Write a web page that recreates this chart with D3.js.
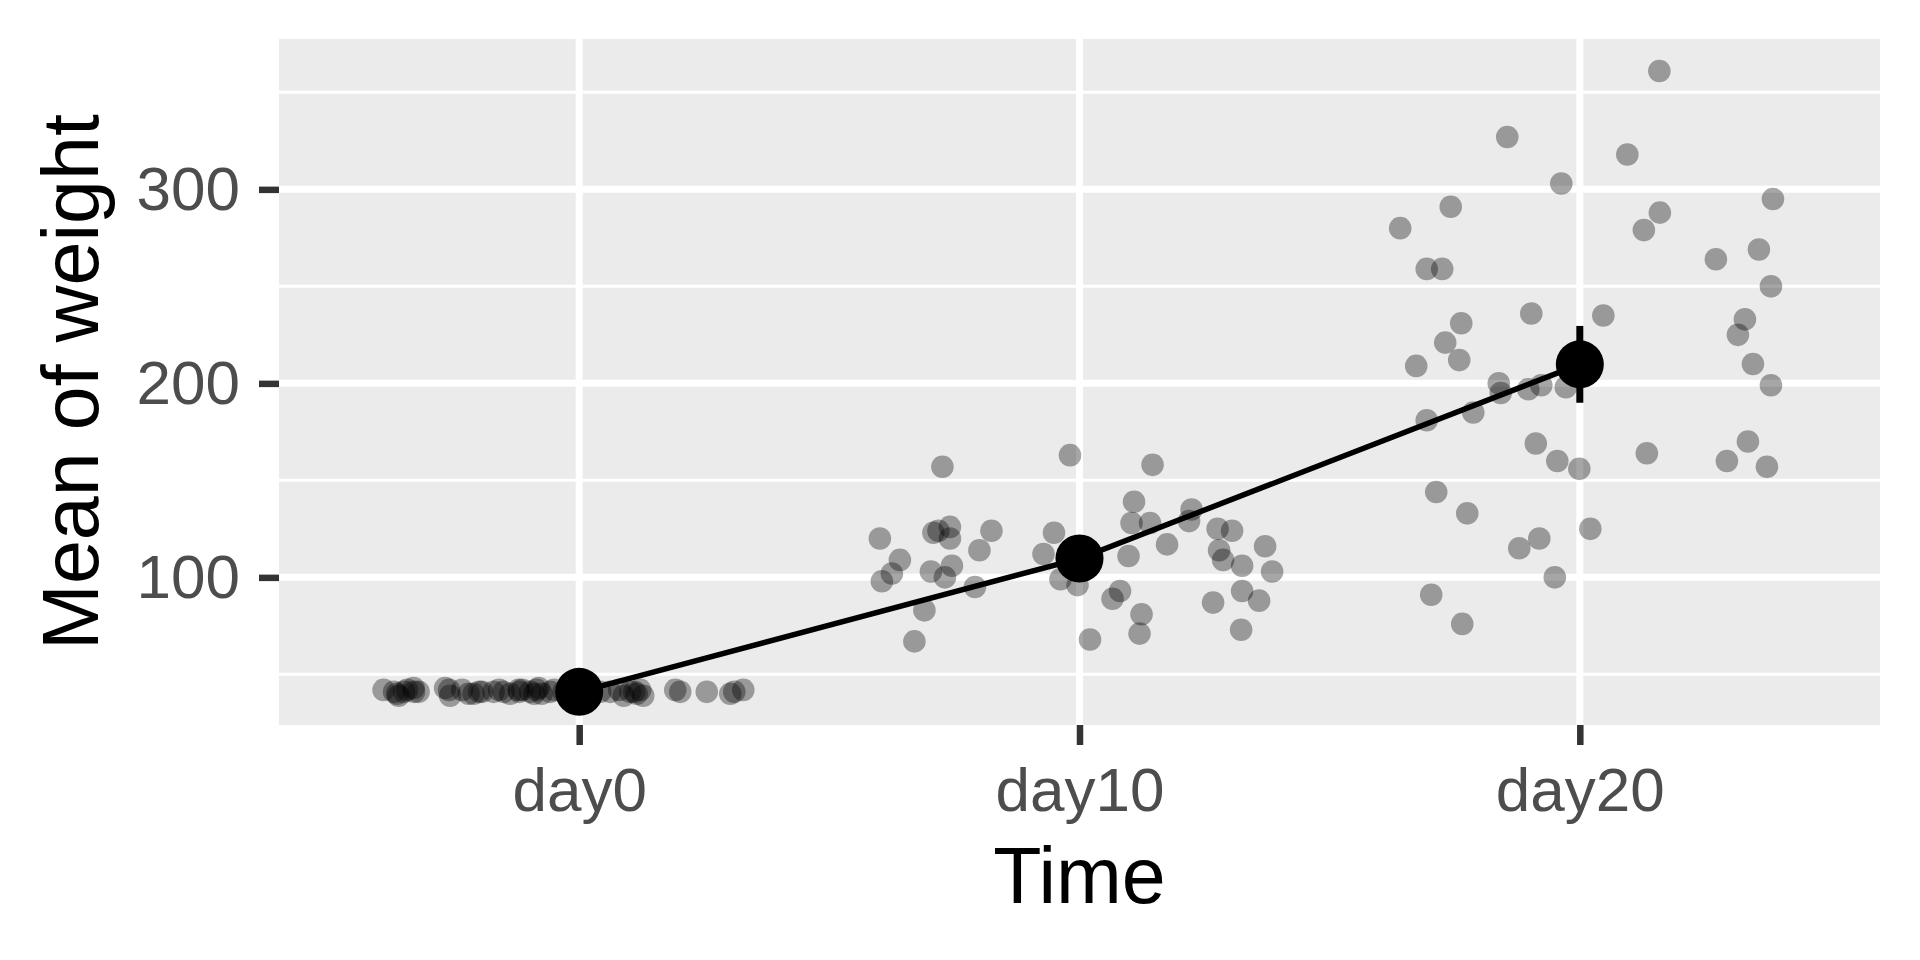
<!DOCTYPE html>
<html>
<head>
<meta charset="utf-8">
<script src="https://cdnjs.cloudflare.com/ajax/libs/d3/7.8.5/d3.min.js"></script>
<style>
  body { margin: 0; background: #ffffff; }
</style>
</head>
<body>
<script>
// Categories and summary values (mean and half width of the interval)
var days = ["day0", "day10", "day20"];
var meanWeight = [41.0, 109.7, 209.8];
var ciHalf = [0.3, 7.6, 19.8];
var yTicks = [100, 200, 300];
var yMinor = [50, 150, 250, 350];

// Raw observations: horizontal jitter (in category steps) and weight
var day0Jitter = [-0.391, -0.364, -0.361, -0.344, -0.331, -0.321, -0.268, -0.258, -0.234, -0.221,
  -0.211, -0.194, -0.171, -0.151, -0.138, -0.121, -0.114, -0.098, -0.085, -0.081,
  -0.075, -0.058, -0.031, -0.018, 0.002, 0.022, 0.042, 0.062, 0.089, 0.102,
  0.115, 0.122, 0.128, 0.192, 0.202, 0.255, 0.302, 0.328,
  -0.37, -0.35, -0.33, -0.26, -0.2, -0.16, -0.12, -0.09, -0.05, 0.08, 0.11, 0.31];
var day0Weight = [42, 40, 39, 42, 43, 41, 43, 39, 42, 40,
  40, 41, 41, 41, 40, 42, 42, 41, 42, 43,
  40, 41, 41, 41, 42, 41, 41, 41, 39, 41,
  40, 42, 39, 42, 41, 41, 40, 42,
  41, 41, 41, 42, 41, 42, 41, 40, 42, 42, 41, 41];

var day10Jitter = [-0.274, -0.019, 0.146, -0.399, -0.292, -0.259, -0.259, -0.282, -0.176, -0.200,
  -0.359, -0.375, -0.395, -0.297, -0.255, -0.269, -0.209, -0.310, -0.330, -0.051,
  -0.072, -0.038, -0.004, 0.021, 0.109, 0.104, 0.141, 0.098, 0.175, 0.224,
  0.219, 0.081, 0.066, 0.124, 0.120, 0.276, 0.305, 0.279, 0.287, 0.325,
  0.371, 0.385, 0.267, 0.325, 0.359, 0.323, -0.010, 0.020, 0.000];
var day10Weight = [157, 163, 158, 120, 123, 126, 120, 124, 124, 114,
  109, 102, 98, 103, 106, 100, 95, 83, 67, 123,
  112, 99, 96, 68, 139, 128, 128, 111, 117, 135,
  129, 93, 89, 81, 71, 125, 124, 114, 109, 106,
  116, 103, 87, 93, 88, 73, 108, 112, 104];

var day20Jitter = [0.159, -0.145, 0.095, -0.037, -0.258, -0.359, 0.160, 0.128, 0.386, -0.306,
  -0.275, 0.272, 0.358, 0.382, -0.097, -0.237, 0.047, 0.330, 0.316, -0.269,
  -0.327, -0.241, 0.346, 0.382, -0.162, -0.158, -0.103, -0.077, -0.028, -0.306,
  -0.213, -0.088, -0.045, -0.001, 0.134, 0.336, 0.294, 0.374, -0.287, -0.225,
  0.021, -0.081, -0.121, -0.050, -0.297, -0.235];
var day20Weight = [361, 327, 318, 303, 291, 280, 288, 279, 295, 259,
  259, 264, 269, 250, 236, 231, 235, 233, 225, 221,
  209, 212, 210, 199, 200, 195, 197, 199, 198, 181,
  185, 169, 160, 156, 164, 170, 160, 157, 144, 133,
  125, 120, 115, 100, 91, 76];

var jitterByDay = [day0Jitter, day10Jitter, day20Jitter];
var weightByDay = [day0Weight, day10Weight, day20Weight];

// Canvas and panel
var w = 1920;
var h = 960;
var panel = { left: 279, right: 1880, top: 39, bottom: 725 };
var font = "'Liberation Sans', Arial, Helvetica, sans-serif";

var svg = d3.select("body")
  .append("svg")
  .attr("width", w)
  .attr("height", h);

var x = d3.scalePoint()
  .domain(days)
  .range([panel.left, panel.right])
  .padding(0.6);

var y = d3.scaleLinear()
  .domain([23.9, 377.5])
  .range([panel.bottom, panel.top]);

// Panel background
svg.append("rect")
  .attr("x", panel.left)
  .attr("y", panel.top)
  .attr("width", panel.right - panel.left)
  .attr("height", panel.bottom - panel.top)
  .attr("fill", "#EBEBEB");

// Grid lines
svg.selectAll("line.minor")
  .data(yMinor)
  .enter()
  .append("line")
  .attr("class", "minor")
  .attr("x1", panel.left)
  .attr("x2", panel.right)
  .attr("y1", function(d) { return y(d); })
  .attr("y2", function(d) { return y(d); })
  .attr("stroke", "#ffffff")
  .attr("stroke-width", 3);

svg.selectAll("line.majorY")
  .data(yTicks)
  .enter()
  .append("line")
  .attr("class", "majorY")
  .attr("x1", panel.left)
  .attr("x2", panel.right)
  .attr("y1", function(d) { return y(d); })
  .attr("y2", function(d) { return y(d); })
  .attr("stroke", "#ffffff")
  .attr("stroke-width", 7);

svg.selectAll("line.majorX")
  .data(days)
  .enter()
  .append("line")
  .attr("class", "majorX")
  .attr("x1", function(d) { return x(d); })
  .attr("x2", function(d) { return x(d); })
  .attr("y1", panel.top)
  .attr("y2", panel.bottom)
  .attr("stroke", "#ffffff")
  .attr("stroke-width", 7);

// Jittered raw points
var raw = [];
days.forEach(function(day, i) {
  weightByDay[i].forEach(function(v, j) {
    raw.push({ day: day, jitter: jitterByDay[i][j], weight: v });
  });
});

svg.append("g")
  .selectAll("circle")
  .data(raw)
  .enter()
  .append("circle")
  .attr("cx", function(d) { return x(d.day) + d.jitter * x.step(); })
  .attr("cy", function(d) { return y(d.weight); })
  .attr("r", 11.3)
  .attr("fill", "#000000")
  .attr("fill-opacity", 0.35);

// Line through the means
var summary = days.map(function(day, i) {
  return { day: day, mean: meanWeight[i], ci: ciHalf[i] };
});

var line = d3.line()
  .x(function(d) { return x(d.day); })
  .y(function(d) { return y(d.mean); });

svg.append("path")
  .datum(summary)
  .attr("d", line)
  .attr("fill", "none")
  .attr("stroke", "#000000")
  .attr("stroke-width", 5.5);

// Interval bars
svg.selectAll("line.range")
  .data(summary)
  .enter()
  .append("line")
  .attr("class", "range")
  .attr("x1", function(d) { return x(d.day); })
  .attr("x2", function(d) { return x(d.day); })
  .attr("y1", function(d) { return y(d.mean - d.ci); })
  .attr("y2", function(d) { return y(d.mean + d.ci); })
  .attr("stroke", "#000000")
  .attr("stroke-width", 7);

// Mean points
svg.selectAll("circle.mean")
  .data(summary)
  .enter()
  .append("circle")
  .attr("class", "mean")
  .attr("cx", function(d) { return x(d.day); })
  .attr("cy", function(d) { return y(d.mean); })
  .attr("r", 24)
  .attr("fill", "#000000");

// Axes
var yAxis = svg.append("g")
  .attr("transform", "translate(" + panel.left + ",0)")
  .call(d3.axisLeft(y).tickValues(yTicks).tickSize(20).tickPadding(19));

var xAxis = svg.append("g")
  .attr("transform", "translate(0," + panel.bottom + ")")
  .call(d3.axisBottom(x).tickSize(20).tickPadding(22));

[yAxis, xAxis].forEach(function(g) {
  g.select(".domain").remove();
  g.selectAll(".tick line")
    .attr("stroke", "#333333")
    .attr("stroke-width", 6.5);
  g.selectAll(".tick text")
    .attr("fill", "#4D4D4D")
    .style("font-family", font)
    .style("font-size", "62px");
});

// Axis titles
svg.append("text")
  .attr("x", (panel.left + panel.right) / 2)
  .attr("y", 903)
  .attr("text-anchor", "middle")
  .style("font-family", font)
  .style("font-size", "79px")
  .attr("fill", "#000000")
  .text("Time");

svg.append("text")
  .attr("transform", "translate(98," + (panel.top + panel.bottom) / 2 + ") rotate(-90)")
  .attr("text-anchor", "middle")
  .style("font-family", font)
  .style("font-size", "79px")
  .attr("fill", "#000000")
  .text("Mean of weight");
</script>
</body>
</html>
